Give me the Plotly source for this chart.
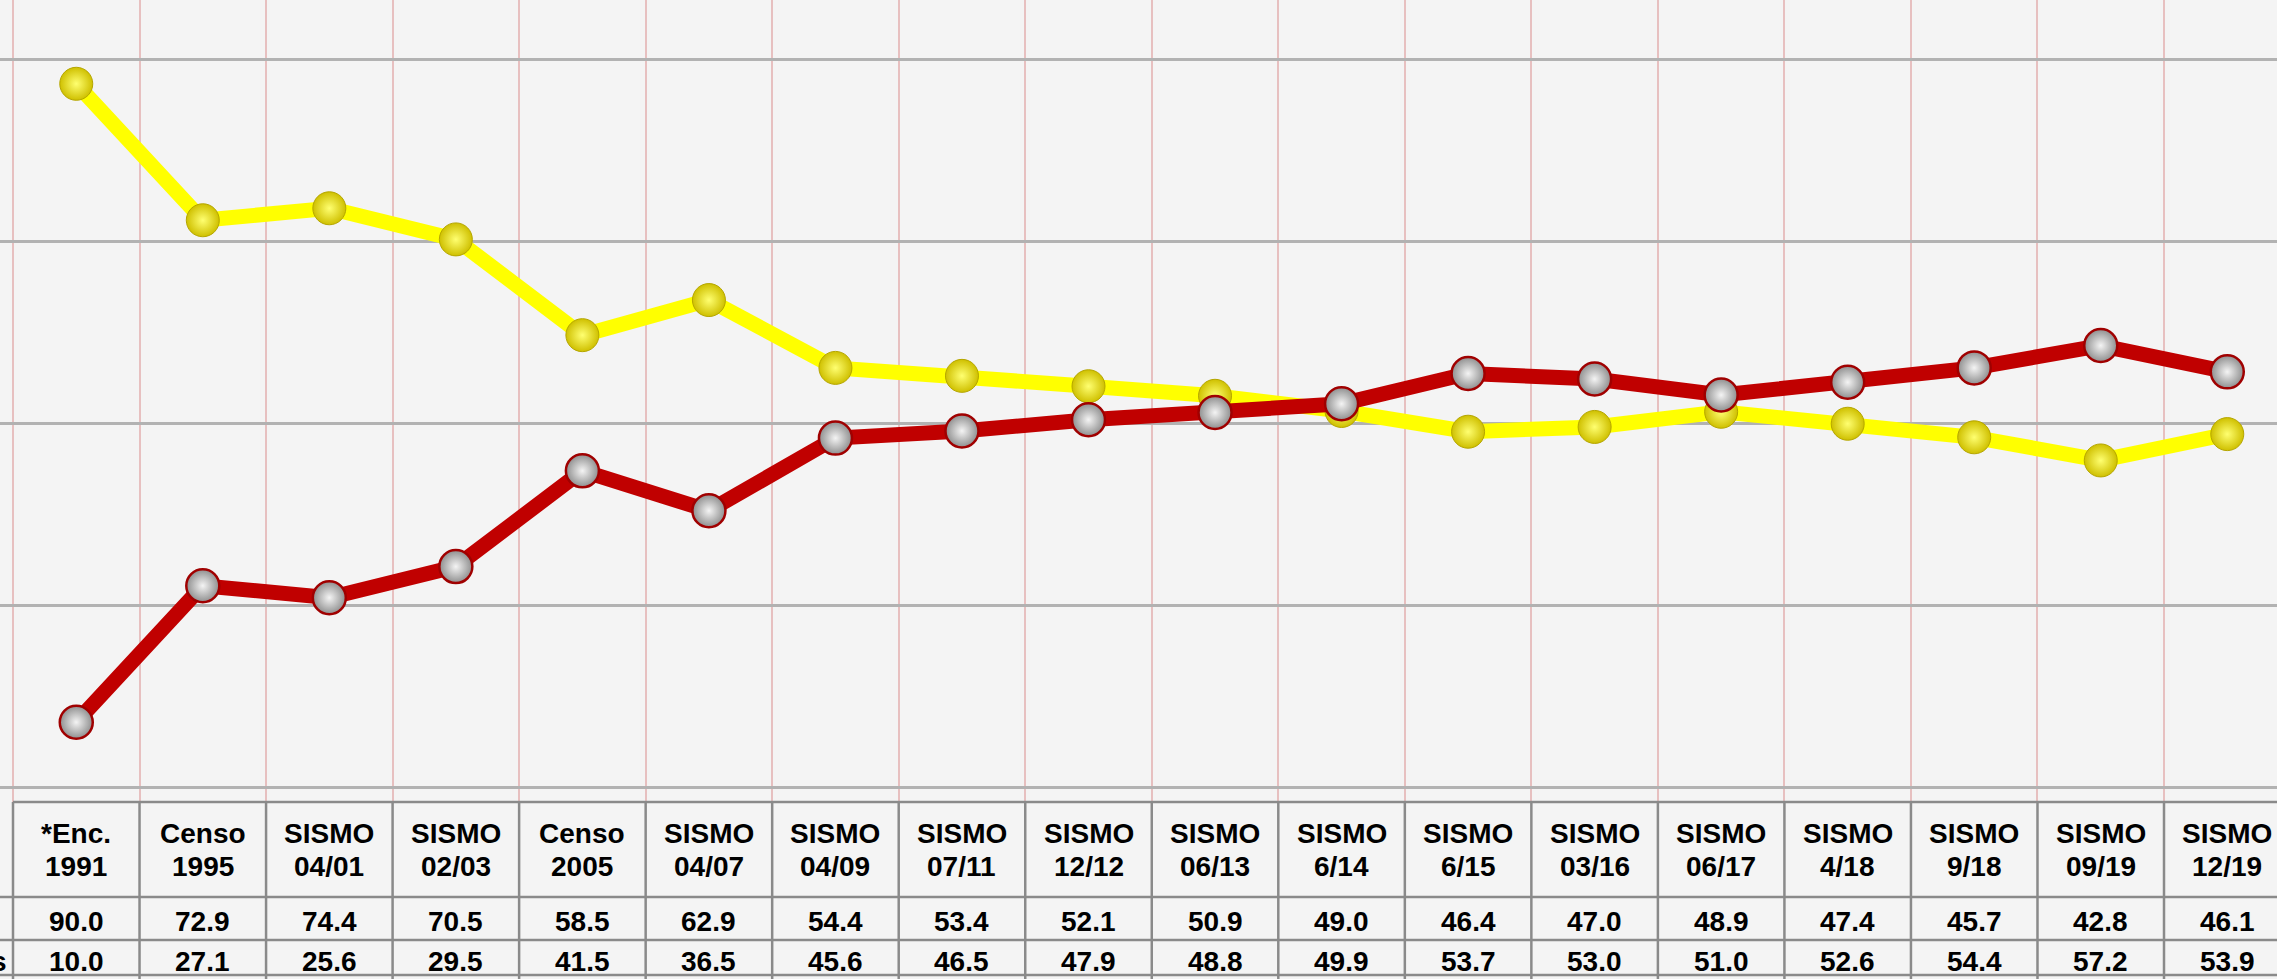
import plotly.graph_objects as go

# ---- data ----
cat_line1 = ["*Enc.", "Censo", "SISMO", "SISMO", "Censo", "SISMO", "SISMO", "SISMO", "SISMO",
             "SISMO", "SISMO", "SISMO", "SISMO", "SISMO", "SISMO", "SISMO", "SISMO", "SISMO"]
cat_line2 = ["1991", "1995", "04/01", "02/03", "2005", "04/07", "04/09", "07/11", "12/12",
             "06/13", "6/14", "6/15", "03/16", "06/17", "4/18", "9/18", "09/19", "12/19"]
yellow_vals = [90.0, 72.9, 74.4, 70.5, 58.5, 62.9, 54.4, 53.4, 52.1, 50.9, 49.0, 46.4, 47.0,
               48.9, 47.4, 45.7, 42.8, 46.1]
red_vals = [10.0, 27.1, 25.6, 29.5, 41.5, 36.5, 45.6, 46.5, 47.9, 48.8, 49.9, 53.7, 53.0,
            51.0, 52.6, 54.4, 57.2, 53.9]
row2_label_tail = "s"

W, H = 2277, 979
n = len(cat_line1)
xs = list(range(n))

# pixel layout helpers
col_w = 126.53
x0_px = 13.0                       # left boundary of first category column
x_min = -0.5 - x0_px / col_w
x_max = x_min + W / col_w
plot_bottom_px = 802.0
y_dom0 = 1 - plot_bottom_px / H


def py(px):
    return 1 - px / H


fig = go.Figure()

fig.add_trace(go.Scatter(
    x=xs, y=yellow_vals, mode="lines+markers",
    line=dict(color="#ffff00", width=15),
    marker=dict(size=33, color="#cfc000",
                gradient=dict(type="radial", color="#ffff70"),
                line=dict(color="#b5a600", width=1)),
    hoverinfo="skip", showlegend=False,
))
fig.add_trace(go.Scatter(
    x=xs, y=red_vals, mode="lines+markers",
    line=dict(color="#c00000", width=15),
    marker=dict(size=33, color="#8e8e8e",
                gradient=dict(type="radial", color="#f4f4f4"),
                line=dict(color="#a00000", width=2.5)),
    hoverinfo="skip", showlegend=False,
))

shapes = []
line_col = "#8a8a8a"
# table horizontal lines
shapes.append(dict(type="line", xref="x", yref="paper", x0=-0.5, x1=x_max + 1,
                   y0=py(802), y1=py(802), line=dict(color=line_col, width=2.5), layer="above"))
for ypx in (897, 940, 975):
    shapes.append(dict(type="line", xref="x", yref="paper", x0=x_min - 1, x1=x_max + 1,
                       y0=py(ypx), y1=py(ypx), line=dict(color=line_col, width=2.5), layer="above"))
# table vertical lines
for i in range(n + 1):
    shapes.append(dict(type="line", xref="x", yref="paper", x0=i - 0.5, x1=i - 0.5,
                       y0=py(802), y1=0, line=dict(color=line_col, width=2.5), layer="above"))

annotations = []
fnt = dict(family="Arial, Liberation Sans, sans-serif", size=28, color="#000000")
for i in range(n):
    annotations.append(dict(x=xs[i], y=py(833), xref="x", yref="paper", text="<b>%s</b>" % cat_line1[i],
                            showarrow=False, xanchor="center", yanchor="middle", font=fnt))
    annotations.append(dict(x=xs[i], y=py(866), xref="x", yref="paper", text="<b>%s</b>" % cat_line2[i],
                            showarrow=False, xanchor="center", yanchor="middle", font=fnt))
    annotations.append(dict(x=xs[i], y=py(921), xref="x", yref="paper", text="<b>%.1f</b>" % yellow_vals[i],
                            showarrow=False, xanchor="center", yanchor="middle", font=fnt))
    annotations.append(dict(x=xs[i], y=py(961), xref="x", yref="paper", text="<b>%.1f</b>" % red_vals[i],
                            showarrow=False, xanchor="center", yanchor="middle", font=fnt))
annotations.append(dict(x=9 / W, y=py(961), xref="paper", yref="paper", text="<b>%s</b>" % row2_label_tail,
                        showarrow=False, xanchor="right", yanchor="middle", font=fnt))

fig.update_layout(
    width=W, height=H, autosize=False,
    margin=dict(l=0, r=0, t=0, b=0, pad=0),
    paper_bgcolor="#f4f4f4", plot_bgcolor="#f4f4f4",
    xaxis=dict(range=[x_min, x_max], domain=[0, 1], showticklabels=False, ticks="",
               tickmode="array", tickvals=[i - 0.5 for i in range(n + 1)],
               showgrid=True, gridcolor="rgba(220,150,150,0.55)", gridwidth=1.5,
               zeroline=False, showline=False, fixedrange=True),
    yaxis=dict(range=[0, 100.5], domain=[y_dom0, 1], showticklabels=False, ticks="",
               tick0=1.8, dtick=22.8, showgrid=True, gridcolor="#b2b2b2", gridwidth=3,
               zeroline=False, showline=False, fixedrange=True),
    shapes=shapes, annotations=annotations,
)

fig.write_html("out.html", config={"displayModeBar": False},
               post_script="document.body.style.margin='0';document.body.style.overflow='hidden';document.body.style.background='#f4f4f4';")
